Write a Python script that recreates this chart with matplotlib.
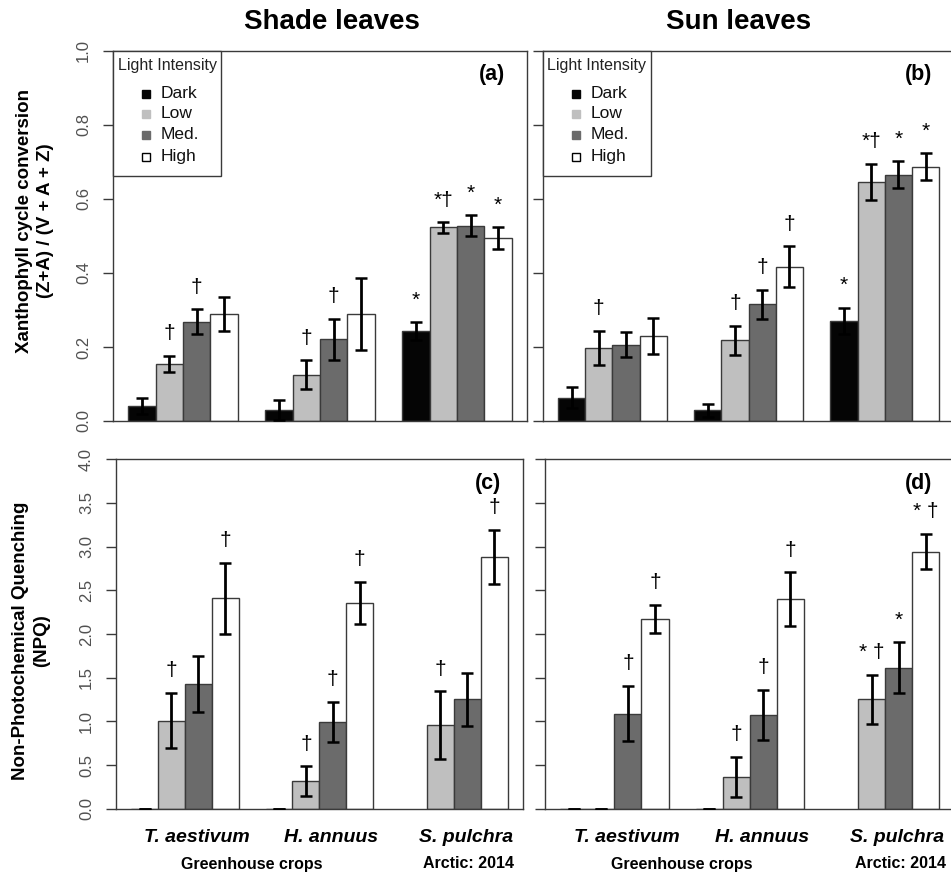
import numpy as np
import matplotlib
matplotlib.use("Agg")
import matplotlib.pyplot as plt
from matplotlib.lines import Line2D
from matplotlib.patches import Rectangle
from matplotlib.ticker import FormatStrFormatter
from matplotlib.transforms import blended_transform_factory

plt.rcParams['font.family'] = ['Liberation Sans', 'DejaVu Sans']

# ---------------- data ----------------
species = ["T. aestivum", "H. annuus", "S. pulchra"]
levels = ["Dark", "Low", "Med.", "High"]
level_colors = ["#050505", "#bfbfbf", "#6b6b6b", "#ffffff"]

nan = np.nan
xanth_shade = [[0.041, 0.155, 0.268, 0.289],
               [0.029, 0.125, 0.221, 0.289],
               [0.243, 0.523, 0.528, 0.494]]
xanth_shade_se = [[0.021, 0.022, 0.034, 0.046],
                  [0.027, 0.039, 0.055, 0.098],
                  [0.024, 0.014, 0.028, 0.029]]
xanth_sun = [[0.063, 0.197, 0.206, 0.230],
             [0.029, 0.218, 0.315, 0.417],
             [0.271, 0.646, 0.666, 0.687]]
xanth_sun_se = [[0.029, 0.047, 0.034, 0.049],
                [0.018, 0.040, 0.039, 0.055],
                [0.035, 0.048, 0.036, 0.036]]
npq_shade = [[0.0, 1.008, 1.427, 2.408],
             [0.0, 0.313, 0.992, 2.355],
             [nan, 0.954, 1.252, 2.885]]
npq_shade_se = [[0.0, 0.315, 0.317, 0.407],
                [0.0, 0.172, 0.227, 0.240],
                [nan, 0.390, 0.303, 0.310]]
npq_sun = [[0.0, 0.0, 1.088, 2.172],
           [0.0, 0.366, 1.073, 2.401],
           [nan, 1.252, 1.615, 2.943]]
npq_sun_se = [[0.0, 0.0, 0.315, 0.160],
              [0.0, 0.227, 0.290, 0.305],
              [nan, 0.280, 0.290, 0.200]]

ann_a = [["", "†", "†", ""], ["", "†", "†", ""], ["*", "*†", "*", "*"]]
ann_b = [["", "†", "", ""], ["", "†", "†", "†"], ["*", "*†", "*", "*"]]
ann_c = [["", "†", "", "†"], ["", "†", "†", "†"], ["", "†", "", "†"]]
ann_d = [["", "", "†", "†"], ["", "†", "†", "†"], ["", "* †", "*", "* †"]]

xanth_ticks = [0.0, 0.2, 0.4, 0.6, 0.8, 1.0]
npq_ticks = [0.0, 0.5, 1.0, 1.5, 2.0, 2.5, 3.0, 3.5, 4.0]

# ---------------- layout ----------------
W, H = 951, 876
fig = plt.figure(figsize=(W / 100, H / 100), dpi=100)


def px_axes(left, top, right, bottom):
    return fig.add_axes([left / W, 1 - bottom / H, (right - left) / W, (bottom - top) / H])


ax_a = px_axes(113, 51, 527, 421)
ax_b = px_axes(542.7, 51, 954.5, 421)
ax_c = px_axes(116, 459.3, 522.7, 808.7)
ax_d = px_axes(545, 459.3, 954.5, 808.7)

EDGE = "#3a3a3a"


def draw_panel(ax, vals, errs, ann, ymax, ticks, show_labels, letter, legend):
    vals = np.array(vals, dtype=float)
    errs = np.array(errs, dtype=float)
    for g in range(vals.shape[0]):
        for s in range(vals.shape[1]):
            x = 1 + 5 * g + s + 0.5
            v = vals[g, s]
            e = errs[g, s]
            if np.isnan(v):
                continue
            ax.bar(x, v, width=1.0, color=level_colors[s], edgecolor=EDGE,
                   linewidth=1.0, zorder=2)
            ax.errorbar(x, v, yerr=e, fmt="none", ecolor="black",
                        elinewidth=2.0, capsize=4.2, capthick=1.8, zorder=3)
            if ann[g][s]:
                ax.annotate(ann[g][s], xy=(x, v + e), xytext=(0, 16),
                            textcoords="offset points", ha="center", va="center",
                            fontsize=15, color="black", zorder=4)
    ax.set_xlim(0.44, 15.56)
    ax.set_ylim(0, ymax)
    ax.set_xticks([])
    ax.set_yticks(ticks)
    ax.yaxis.set_major_formatter(FormatStrFormatter("%.1f"))
    ax.tick_params(axis="y", direction="out", length=7.3, width=1.0, color=EDGE,
                   labelsize=12, labelcolor="#505050", pad=14,
                   labelleft=show_labels)
    if show_labels:
        for lab in ax.get_yticklabels():
            lab.set_rotation(90)
            lab.set_va("center")
            lab.set_ha("center")
    for sp in ax.spines.values():
        sp.set_color(EDGE)
        sp.set_linewidth(1.0)
    ax.patch.set_alpha(0)

    # panel letter
    bbox = ax.get_position()
    wpx = bbox.width * W
    hpx = bbox.height * H
    ax.text(1 - 22 / wpx, 1 - 24 / hpx, letter, transform=ax.transAxes,
            ha="right", va="center", fontsize=15.5, fontweight="bold")

    if legend:
        bw, bh = 108 / wpx, 125 / hpx
        ax.add_patch(Rectangle((0, 1 - bh), bw, bh, transform=ax.transAxes,
                               facecolor="white", edgecolor=EDGE, linewidth=1.0,
                               zorder=5, clip_on=False))
        ax.text(54 / wpx, 1 - 15 / hpx, "Light Intensity", transform=ax.transAxes,
                ha="center", va="center", fontsize=11.5, color="#222222", zorder=6)
        ys = [43, 63, 84, 106]
        for s, lab in enumerate(levels):
            ec = "black" if level_colors[s] == "#ffffff" else level_colors[s]
            ax.add_line(Line2D([33 / wpx], [1 - ys[s] / hpx], transform=ax.transAxes,
                               marker="s", markersize=6, markerfacecolor=level_colors[s],
                               markeredgecolor=ec, markeredgewidth=1.0, linestyle="none",
                               zorder=6))
            ax.text(48 / wpx, 1 - ys[s] / hpx, lab, transform=ax.transAxes,
                    ha="left", va="center", fontsize=12.5, color="#111111", zorder=6)


draw_panel(ax_a, xanth_shade, xanth_shade_se, ann_a, 1.0, xanth_ticks, True, "(a)", True)
draw_panel(ax_b, xanth_sun, xanth_sun_se, ann_b, 1.0, xanth_ticks, False, "(b)", True)
draw_panel(ax_c, npq_shade, npq_shade_se, ann_c, 4.0, npq_ticks, True, "(c)", False)
draw_panel(ax_d, npq_sun, npq_sun_se, ann_d, 4.0, npq_ticks, False, "(d)", False)

# x-axis category labels under bottom panels
for ax in (ax_c, ax_d):
    tr = blended_transform_factory(ax.transData, fig.transFigure)
    for g, sp in enumerate(species):
        ax.text(1 + 5 * g + 2 + 0.45, 1 - 837 / H, sp, transform=tr, ha="center",
                va="center", fontsize=14, fontweight="bold", fontstyle="italic")
    ax.text(5.5, 1 - 864 / H, "Greenhouse crops", transform=tr, ha="center",
            va="center", fontsize=11.5, fontweight="bold")
    ax.text(13.55, 1 - 864 / H, "Arctic: 2014", transform=tr, ha="center",
            va="center", fontsize=11.5, fontweight="bold")

# titles
fig.text(332 / W, 1 - 22 / H, "Shade leaves", ha="center", va="center",
         fontsize=20, fontweight="bold")
fig.text(739 / W, 1 - 22 / H, "Sun leaves", ha="center", va="center",
         fontsize=20, fontweight="bold")

# y labels
fig.text(35 / W, 1 - 221 / H, "Xanthophyll cycle conversion\n(Z+A) / (V + A + Z)",
         rotation=90, ha="center", va="center", multialignment="center",
         fontsize=13.5, fontweight="bold", linespacing=1.35)
fig.text(31 / W, 1 - 641 / H, "Non-Photochemical Quenching\n(NPQ)",
         rotation=90, ha="center", va="center", multialignment="center",
         fontsize=13.5, fontweight="bold", linespacing=1.35)

fig.savefig("out.png", dpi=100)
